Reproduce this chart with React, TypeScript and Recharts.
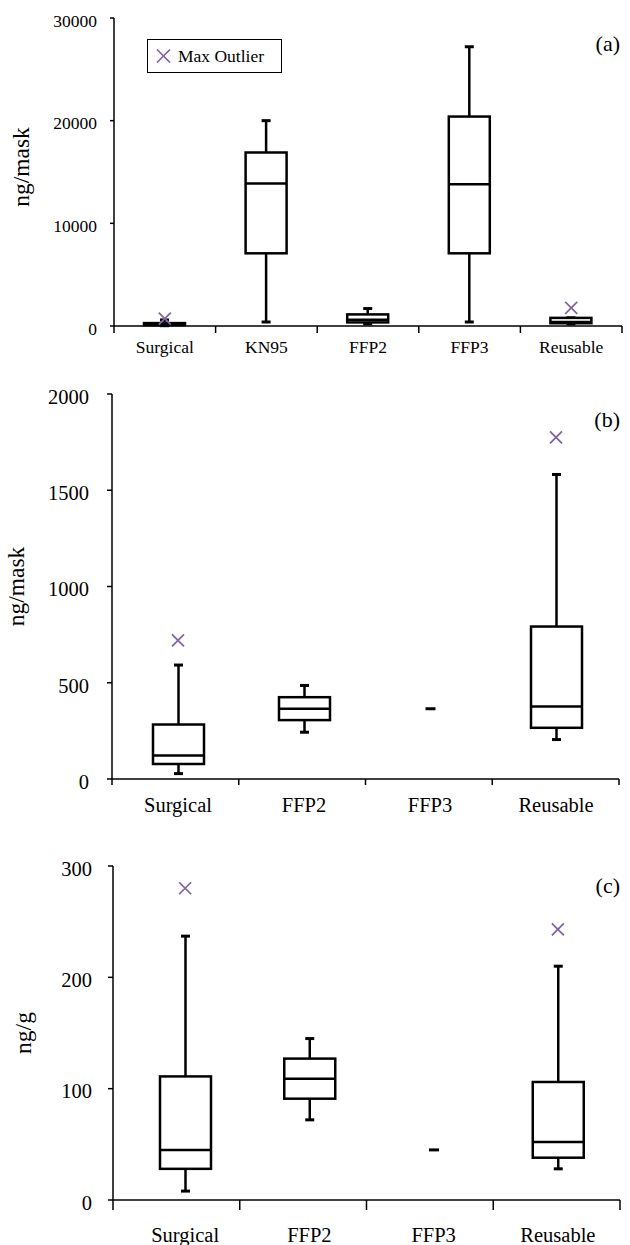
import React from 'react';
import { ComposedChart, Bar, Scatter, XAxis, YAxis, Legend } from 'recharts';

// panel (a)
const catsA = ['Surgical', 'KN95', 'FFP2', 'FFP3', 'Reusable'];
const minA = [30, 390, 200, 390, 200];
const q1A = [78, 7080, 350, 7080, 270];
const medA = [122, 13870, 600, 13800, 380];
const q3A = [283, 16900, 1130, 20400, 790];
const maxA = [590, 20000, 1700, 27200, 800];
const outA = [720, null, null, null, 1775];
const ticksA = [0, 10000, 20000, 30000];

// panel (b)
const catsB = ['Surgical', 'FFP2', 'FFP3', 'Reusable'];
const minB = [28, 243, 365, 205];
const q1B = [78, 306, 365, 266];
const medB = [122, 365, 365, 377];
const q3B = [283, 425, 365, 792];
const maxB = [592, 486, 365, 1582];
const outB = [720, null, null, 1775];
const ticksB = [0, 500, 1000, 1500, 2000];

// panel (c)
const catsC = ['Surgical', 'FFP2', 'FFP3', 'Reusable'];
const minC = [8, 72, 45, 28];
const q1C = [28, 91, 45, 38];
const medC = [45, 109, 45, 52];
const q3C = [111, 127, 45, 106];
const maxC = [237, 145, 45, 210];
const outC = [280, null, null, 243];
const ticksC = [0, 100, 200, 300];

const FONT = '"Liberation Serif", "Times New Roman", serif';
const PURPLE = '#8064A2';

const rows = (cats, mn, q1, md, q3, mx, out) =>
  cats.map((name, i) => ({ name, min: mn[i], q1: q1[i], med: md[i], q3: q3[i], max: mx[i], outlier: out[i] }));

const dataA = rows(catsA, minA, q1A, medA, q3A, maxA, outA);
const dataB = rows(catsB, minB, q1B, medB, q3B, maxB, outB);
const dataC = rows(catsC, minC, q1C, medC, q3C, maxC, outC);

const BoxShape = (props: any) => {
  const { x, y, width, height, payload } = props;
  const top = Math.min(y, y + height);
  const bottom = Math.max(y, y + height);
  const cx = x + width / 2;
  const span = payload.max - payload.min;
  if (!span) {
    return <line x1={cx - 5} x2={cx + 5} y1={top} y2={top} stroke="#000" strokeWidth={3} />;
  }
  const py = (v: number) => bottom - ((v - payload.min) / span) * (bottom - top);
  const yq1 = py(payload.q1);
  const yq3 = py(payload.q3);
  const ym = py(payload.med);
  return (
    <g>
      <line x1={cx} x2={cx} y1={py(payload.max)} y2={yq3} stroke="#000" strokeWidth={2.5} />
      <line x1={cx} x2={cx} y1={yq1} y2={py(payload.min)} stroke="#000" strokeWidth={2.5} />
      <line x1={cx - 4.5} x2={cx + 4.5} y1={py(payload.max)} y2={py(payload.max)} stroke="#000" strokeWidth={3} />
      <line x1={cx - 4.5} x2={cx + 4.5} y1={py(payload.min)} y2={py(payload.min)} stroke="#000" strokeWidth={3} />
      <rect x={x} y={yq3} width={width} height={Math.max(yq1 - yq3, 0.5)} fill="#fff" stroke="#000" strokeWidth={2.5} />
      <line x1={x} x2={x + width} y1={ym} y2={ym} stroke="#000" strokeWidth={2.5} />
    </g>
  );
};

const Cross = (props: any) => {
  const { cx, cy, payload } = props;
  if (payload == null || payload.outlier == null) return <g />;
  const s = 6;
  return (
    <g stroke={PURPLE} strokeWidth={1.7}>
      <line x1={cx - s} x2={cx + s} y1={cy - s} y2={cy + s} />
      <line x1={cx - s} x2={cx + s} y1={cy + s} y2={cy - s} />
    </g>
  );
};

// category separators sit on the even split of the plot width, labels follow the bands
const makeTick = (n, plotLeft, plotW, tickLen, fontSize, dy) => (props: any) => {
  const { x, y, index, payload } = props;
  const step = plotW / n;
  const left = plotLeft + index * step;
  return (
    <g>
      <line x1={left} x2={left} y1={y} y2={y + tickLen} stroke="#000" strokeWidth={1.5} />
      {index === n - 1 && (
        <line x1={left + step} x2={left + step} y1={y} y2={y + tickLen} stroke="#000" strokeWidth={1.5} />
      )}
      <text x={x} y={y + dy} textAnchor="middle" fontSize={fontSize} fontFamily={FONT} fill="#000">
        {payload.value}
      </text>
    </g>
  );
};

const yLabel = (text, bx, shift) => (props: any) => {
  const vb = props.viewBox;
  const lx = vb.x + bx;
  const ly = vb.y + vb.height / 2 + shift;
  return (
    <text x={lx} y={ly} transform={`rotate(-90, ${lx}, ${ly})`} textAnchor="middle" fontSize={23.5} fontFamily={FONT} fill="#000">
      {text}
    </text>
  );
};

const LegendBox = () => (
  <div
    style={{
      width: 135,
      height: 34,
      boxSizing: 'border-box',
      border: '1.5px solid #000',
      background: '#fff',
      display: 'flex',
      alignItems: 'center',
      fontFamily: FONT,
      fontSize: 17.5,
      color: '#000',
    }}
  >
    <svg width={30} height={20} style={{ display: 'block' }}>
      <g stroke={PURPLE} strokeWidth={1.7}>
        <line x1={9} x2={22} y1={3.5} y2={16.5} />
        <line x1={9} x2={22} y1={16.5} y2={3.5} />
      </g>
    </svg>
    <span>Max Outlier</span>
  </div>
);

const panelTag = (text, top) => (
  <div
    style={{
      position: 'absolute',
      top,
      right: 10,
      fontFamily: FONT,
      fontSize: 22,
      lineHeight: '22px',
      color: '#000',
    }}
  >
    {text}
  </div>
);

const axisStroke = { stroke: '#000', strokeWidth: 1.5 };

const Panel = ({ data, ticks, domain, height, margin, yWidth, xHeight, xPad, barSize, tickFont, yTickSize, yTickMargin, xTickLen, xLabelDy, label, labelX, labelShift, legend }: any) => {
  const plotW = 630 - margin.right - yWidth;
  return (
    <ComposedChart width={630} height={height} data={data} margin={margin}>
      <XAxis
        dataKey="name"
        type="category"
        interval={0}
        height={xHeight}
        padding={{ left: xPad, right: 0 }}
        tickSize={0}
        tickMargin={0}
        tickLine={false}
        axisLine={axisStroke}
        tick={makeTick(data.length, yWidth, plotW, xTickLen, tickFont, xLabelDy)}
      />
      <YAxis
        type="number"
        domain={domain}
        ticks={ticks}
        interval={0}
        width={yWidth}
        tickSize={yTickSize}
        tickMargin={yTickMargin}
        axisLine={axisStroke}
        tickLine={axisStroke}
        tick={{ fill: '#000', fontSize: tickFont, fontFamily: FONT, dy: 2.5 }}
        label={{ content: yLabel(label, labelX, labelShift) }}
      />
      {legend && (
        <Legend
          layout="vertical"
          align="center"
          verticalAlign="middle"
          wrapperStyle={{ left: 147, top: 39, width: 135, height: 34 }}
          content={() => <LegendBox />}
        />
      )}
      <Bar dataKey={(d) => [d.min, d.max]} barSize={barSize} shape={BoxShape} isAnimationActive={false} legendType="none" />
      <Scatter dataKey="outlier" shape={Cross} isAnimationActive={false} legendType="none" />
    </ComposedChart>
  );
};

export default function App() {
  return (
    <div style={{ position: 'relative', width: 630, height: 1245, overflow: 'hidden', background: '#fff' }}>
      <style>{'body{margin:0}'}</style>
      <div style={{ position: 'absolute', left: 0, top: 0 }}>
        <Panel
          data={dataA}
          ticks={ticksA}
          domain={[0, 30000]}
          height={370}
          margin={{ top: 18, right: 8, bottom: 0, left: 0 }}
          yWidth={114}
          xHeight={44}
          xPad={0}
          barSize={41}
          tickFont={17.5}
          yTickSize={4}
          yTickMargin={13}
          xTickLen={7}
          xLabelDy={27}
          label="ng/mask"
          labelX={29}
          labelShift={-5}
          legend
        />
      </div>
      <div style={{ position: 'absolute', left: 0, top: 370 }}>
        <Panel
          data={dataB}
          ticks={ticksB}
          domain={[0, 2000]}
          height={460}
          margin={{ top: 24, right: 11, bottom: 0, left: 0 }}
          yWidth={112}
          xHeight={51}
          xPad={3}
          barSize={51}
          tickFont={20.5}
          yTickSize={5}
          yTickMargin={18}
          xTickLen={6}
          xLabelDy={33}
          label="ng/mask"
          labelX={24}
          labelShift={0}
        />
      </div>
      <div style={{ position: 'absolute', left: 0, top: 830 }}>
        <Panel
          data={dataC}
          ticks={ticksC}
          domain={[0, 300]}
          height={415}
          margin={{ top: 36, right: 10, bottom: 0, left: 0 }}
          yWidth={113}
          xHeight={45}
          xPad={10}
          barSize={51}
          tickFont={20.5}
          yTickSize={5}
          yTickMargin={16}
          xTickLen={10}
          xLabelDy={42}
          label="ng/g"
          labelX={31}
          labelShift={0}
        />
      </div>
      {panelTag('(a)', 33)}
      {panelTag('(b)', 409)}
      {panelTag('(c)', 875)}
    </div>
  );
}
